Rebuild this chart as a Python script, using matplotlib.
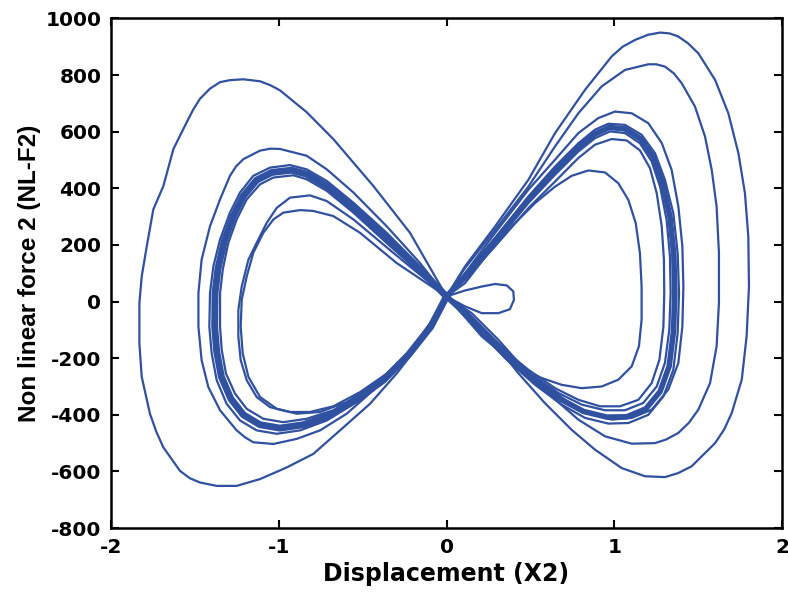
import numpy as np
import matplotlib.pyplot as plt

plt.rcParams['axes.unicode_minus'] = False

# every loop starts and ends at the crossing point near (0, 18)
ox, oy = 0.0, 18

# left lobe, outer loop
left1_x = [-0.218, -0.436, -0.675, -0.834, -0.993, -1.050, -1.112, -1.211, -1.290, -1.350,
           -1.410, -1.470, -1.510, -1.549, -1.628, -1.688, -1.748, -1.787, -1.817, -1.831,
           -1.831, -1.817, -1.768, -1.730, -1.688, -1.589, -1.530, -1.470, -1.370, -1.251,
           -1.112, -0.953, -0.794, -0.635, -0.456, -0.297, -0.158]
left1_y = [243, 408, 574, 669, 746, 764, 778, 785, 782, 775,
           752, 716, 678, 633, 539, 408, 325, 195, 89, -6,
           -148, -266, -396, -460, -515, -598, -624, -639, -651, -651,
           -627, -586, -538, -455, -361, -254, -148]

# left lobe, second loop
left2_x = [-0.158, -0.357, -0.555, -0.714, -0.834, -0.993, -1.050, -1.112, -1.211, -1.255,
           -1.291, -1.350, -1.410, -1.460, -1.479, -1.479, -1.460, -1.420, -1.350, -1.251,
           -1.200, -1.152, -1.032, -0.893, -0.754, -0.595, -0.436, -0.258, -0.099]
left2_y = [136, 266, 385, 467, 515, 539, 540, 533, 503, 477,
           444, 361, 266, 148, 30, -89, -207, -302, -384, -455,
           -480, -497, -503, -485, -455, -396, -313, -207, -77]

# left lobe, dense band: outer edge, middle, inner edge
band_l_out_x = [-0.158, -0.357, -0.555, -0.714, -0.834, -0.933, -1.052, -1.152, -1.231, -1.291,
                -1.350, -1.390, -1.410, -1.414, -1.400, -1.370, -1.311, -1.231, -1.132, -1.012,
                -0.873, -0.714, -0.555, -0.397, -0.238, -0.099]
band_l_out_y = [124, 243, 349, 426, 467, 482, 473, 444, 385, 314,
                219, 124, 30, -89, -183, -278, -361, -420, -455, -467,
                -455, -420, -361, -290, -195, -89]
band_l_mid_x = [-0.158, -0.357, -0.555, -0.714, -0.834, -0.923, -1.042, -1.132, -1.211, -1.271,
                -1.325, -1.362, -1.380, -1.382, -1.370, -1.342, -1.286, -1.211, -1.112, -0.993,
                -0.853, -0.695, -0.536, -0.377, -0.228, -0.094]
band_l_mid_y = [112, 225, 331, 408, 450, 464, 456, 429, 373, 302,
                213, 118, 30, -89, -177, -266, -343, -400, -435, -447,
                -435, -402, -346, -278, -189, -89]
band_l_in_x = [-0.158, -0.357, -0.555, -0.714, -0.834, -0.913, -1.032, -1.112, -1.191, -1.251,
               -1.301, -1.334, -1.350, -1.350, -1.340, -1.315, -1.261, -1.191, -1.092, -0.973,
               -0.834, -0.675, -0.516, -0.357, -0.218, -0.089]
band_l_in_y = [101, 207, 314, 391, 432, 446, 438, 414, 361, 290,
               207, 113, 30, -89, -171, -254, -325, -379, -414, -426,
               -414, -384, -331, -266, -183, -89]

# left lobe, two inner loops
left4_x = [-0.317, -0.555, -0.714, -0.814, -0.933, -1.012, -1.072, -1.132, -1.181, -1.221,
           -1.241, -1.241, -1.227, -1.191, -1.132, -1.052, -0.933, -0.814, -0.675, -0.516,
           -0.357, -0.218, -0.089]
left4_y = [172, 290, 355, 375, 367, 331, 278, 207, 148, 53,
           -30, -124, -207, -278, -337, -373, -390, -390, -370, -320,
           -255, -175, -85]
left5_x = [-0.297, -0.516, -0.675, -0.794, -0.873, -0.973, -1.032, -1.092, -1.152, -1.191,
           -1.221, -1.227, -1.215, -1.181, -1.112, -1.012, -0.893, -0.754, -0.595, -0.436,
           -0.278, -0.139]
left5_y = [136, 243, 302, 320, 323, 314, 290, 243, 172, 89,
           6, -89, -183, -266, -337, -379, -396, -390, -355, -295,
           -215, -125]

# right lobe, outer loop
right1_x = [0.110, 0.289, 0.488, 0.647, 0.826, 0.985, 1.050, 1.124, 1.200, 1.273,
            1.330, 1.382, 1.440, 1.501, 1.601, 1.680, 1.740, 1.779, 1.799, 1.803,
            1.789, 1.760, 1.700, 1.655, 1.601, 1.461, 1.380, 1.302, 1.183, 1.044,
            0.885, 0.746, 0.587, 0.428, 0.269, 0.110]
right1_y = [124, 265, 430, 595, 748, 866, 900, 924, 942, 950,
            947, 936, 912, 877, 783, 665, 524, 383, 230, 53,
            -123, -276, -394, -452, -500, -582, -606, -620, -617, -588,
            -523, -453, -359, -253, -135, -29]

# right lobe, second loop
right2_x = [0.110, 0.289, 0.488, 0.647, 0.786, 0.925, 1.064, 1.203, 1.250, 1.302,
            1.355, 1.402, 1.481, 1.541, 1.581, 1.610, 1.624, 1.624, 1.610, 1.571,
            1.501, 1.445, 1.382, 1.310, 1.243, 1.104, 0.945, 0.786, 0.627, 0.468,
            0.309, 0.150]
right2_y = [118, 253, 406, 548, 665, 760, 818, 838, 838, 830,
            806, 771, 689, 583, 465, 336, 171, -5, -158, -288,
            -382, -428, -464, -487, -500, -502, -476, -417, -335, -241,
            -135, -41]

# right lobe, third loop
right3_x = [0.110, 0.289, 0.488, 0.647, 0.786, 0.905, 1.004, 1.104, 1.203, 1.283,
            1.342, 1.382, 1.406, 1.412, 1.406, 1.382, 1.322, 1.223, 1.104, 0.985,
            0.846, 0.706, 0.547, 0.388, 0.229, 0.090]
right3_y = [100, 242, 395, 501, 595, 648, 671, 665, 630, 560,
            465, 336, 195, 53, -88, -217, -311, -382, -411, -417,
            -394, -347, -276, -194, -100, -17]

# right lobe, dense band: outer edge, middle, inner edge
band_r_out_x = [0.110, 0.289, 0.488, 0.647, 0.786, 0.885, 0.965, 1.064, 1.163, 1.243,
                1.302, 1.352, 1.378, 1.386, 1.378, 1.352, 1.293, 1.203, 1.084, 0.965,
                0.826, 0.686, 0.528, 0.369, 0.210, 0.070]
band_r_out_y = [95, 224, 371, 477, 559, 607, 628, 624, 589, 524,
                430, 312, 171, 30, -111, -241, -335, -400, -429, -431,
                -411, -364, -294, -211, -111, -23]
band_r_mid_x = [0.110, 0.289, 0.488, 0.647, 0.786, 0.885, 0.970, 1.064, 1.158, 1.233,
                1.288, 1.332, 1.355, 1.361, 1.353, 1.327, 1.273, 1.188, 1.074, 0.955,
                0.816, 0.677, 0.518, 0.359, 0.200, 0.070]
band_r_mid_y = [89, 215, 360, 463, 545, 592, 615, 610, 574, 510,
                418, 300, 165, 30, -106, -229, -318, -379, -407, -408,
                -388, -344, -276, -197, -100, -20]
band_r_in_x = [0.110, 0.289, 0.488, 0.647, 0.786, 0.885, 0.975, 1.064, 1.153, 1.223,
               1.273, 1.312, 1.332, 1.336, 1.328, 1.302, 1.253, 1.173, 1.064, 0.945,
               0.806, 0.667, 0.508, 0.349, 0.190, 0.070]
band_r_in_y = [83, 206, 348, 448, 530, 577, 601, 595, 559, 495,
               406, 289, 159, 30, -100, -217, -300, -358, -384, -384,
               -364, -323, -258, -182, -88, -17]

# right lobe, two inner loops
right5_x = [0.110, 0.289, 0.488, 0.647, 0.786, 0.885, 0.985, 1.074, 1.153, 1.213,
            1.253, 1.283, 1.296, 1.298, 1.293, 1.269, 1.223, 1.144, 1.034, 0.915,
            0.786, 0.647, 0.488, 0.329, 0.170, 0.051]
right5_y = [77, 195, 330, 424, 507, 554, 574, 569, 534, 471,
            383, 265, 148, 30, -88, -206, -288, -347, -370, -370,
            -347, -306, -241, -164, -70, -5]
right6_x = [0.110, 0.249, 0.388, 0.528, 0.647, 0.746, 0.845, 0.945, 1.024, 1.084,
            1.128, 1.153, 1.163, 1.163, 1.147, 1.104, 1.024, 0.925, 0.806, 0.686,
            0.567, 0.448, 0.329, 0.210, 0.090]
right6_y = [65, 171, 265, 348, 406, 444, 463, 456, 418, 359,
            277, 171, 53, -64, -158, -229, -276, -300, -306, -294,
            -270, -235, -182, -123, -41]

# small loop right of the crossing
small_x = [0.110, 0.210, 0.289, 0.359, 0.398, 0.402, 0.378, 0.309, 0.210, 0.110]
small_y = [39, 53, 62, 57, 36, 6, -27, -41, -41, -17]

thin = [(left1_x, left1_y), (left2_x, left2_y), (band_l_out_x, band_l_out_y),
        (band_l_in_x, band_l_in_y), (left4_x, left4_y), (left5_x, left5_y),
        (right1_x, right1_y), (right2_x, right2_y), (right3_x, right3_y),
        (band_r_out_x, band_r_out_y), (band_r_in_x, band_r_in_y),
        (right5_x, right5_y), (right6_x, right6_y), (small_x, small_y)]
thick = [(band_l_mid_x, band_l_mid_y, 5.0), (band_r_mid_x, band_r_mid_y, 4.0)]

col = '#3050a0'

fig = plt.figure(figsize=(7.88, 5.94), dpi=100)
ax = fig.add_axes([0.1409, 0.111, 0.8515, 0.858])

for xs, ys in thin:
    ax.plot([ox] + xs + [ox], [oy] + ys + [oy], color=col, lw=1.6, solid_joinstyle='round')
for xs, ys, w in thick:
    ax.plot([ox] + xs + [ox], [oy] + ys + [oy], color=col, lw=w, solid_joinstyle='round')

ax.set_xlim(-2, 2)
ax.set_ylim(-800, 1000)
ax.set_xticks([-2, -1, 0, 1, 2])
ax.set_yticks(np.arange(-800, 1001, 200))
ax.tick_params(direction='in', top=True, right=True, length=5.5, width=1.5,
               labelsize=14.5, pad=7)
for lab in ax.get_xticklabels() + ax.get_yticklabels():
    lab.set_fontweight('bold')
for s in ax.spines.values():
    s.set_linewidth(1.8)

ax.set_xlabel('Displacement (X2)', fontsize=17, fontweight='bold', labelpad=4)
ax.set_ylabel('Non linear force 2 (NL-F2)', fontsize=17.5, fontweight='bold',
              family='Liberation Sans', labelpad=3)

fig.savefig('out.png', dpi=100)
